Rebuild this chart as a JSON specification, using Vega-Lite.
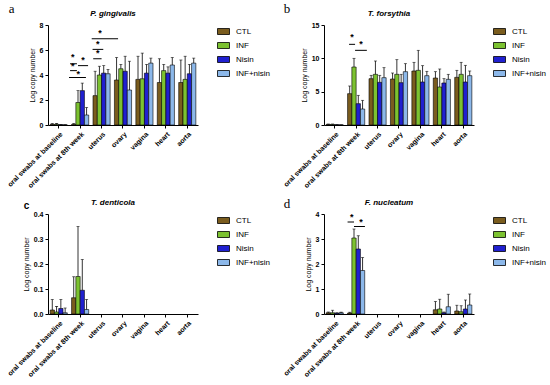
{
"$schema":"https://vega.github.io/schema/vega-lite/v6.json",
"padding":{"left":5,"top":3,"right":0,"bottom":0},
"config":{"font":"Liberation Sans","view":{"stroke":null},
"axis":{"domainColor":"black","tickColor":"black","labelColor":"black","titleColor":"black","grid":false,"labelFontSize":7,"labelFontWeight":"bold","titleFontSize":7,"titleFontWeight":"normal","tickSize":3,"titlePadding":4,"labelOverlap":false},
"legend":{"orient":"right","offset":19,"symbolType":"M-1,-0.5H1V0.5H-1Z","symbolSize":144,"symbolStrokeColor":"black","symbolStrokeWidth":0.8,"labelFontSize":8,"rowPadding":2,"labelOffset":6,"symbolOpacity":1}},
"datasets":{
"bars":[
{"p":"a","s":"oral swabs at baseline","g":"CTL","v":0.05,"t":0.12},
{"p":"a","s":"oral swabs at baseline","g":"INF","v":0.05,"t":0.12},
{"p":"a","s":"oral swabs at baseline","g":"Nisin","v":0.02,"t":0.04},
{"p":"a","s":"oral swabs at baseline","g":"INF+nisin","v":0.01,"t":0.02},
{"p":"a","s":"oral swabs at 8th week","g":"CTL","v":0.05,"t":0.12},
{"p":"a","s":"oral swabs at 8th week","g":"INF","v":1.8,"t":2.75},
{"p":"a","s":"oral swabs at 8th week","g":"Nisin","v":2.75,"t":3.35},
{"p":"a","s":"oral swabs at 8th week","g":"INF+nisin","v":0.8,"t":1.4},
{"p":"a","s":"uterus","g":"CTL","v":2.35,"t":4.3},
{"p":"a","s":"uterus","g":"INF","v":4.0,"t":4.7},
{"p":"a","s":"uterus","g":"Nisin","v":4.15,"t":4.75},
{"p":"a","s":"uterus","g":"INF+nisin","v":4.1,"t":4.45},
{"p":"a","s":"ovary","g":"CTL","v":3.6,"t":5.4},
{"p":"a","s":"ovary","g":"INF","v":4.5,"t":4.85},
{"p":"a","s":"ovary","g":"Nisin","v":4.3,"t":5.5},
{"p":"a","s":"ovary","g":"INF+nisin","v":2.8,"t":5.1},
{"p":"a","s":"vagina","g":"CTL","v":3.65,"t":5.5},
{"p":"a","s":"vagina","g":"INF","v":3.7,"t":5.75},
{"p":"a","s":"vagina","g":"Nisin","v":4.15,"t":4.85},
{"p":"a","s":"vagina","g":"INF+nisin","v":4.95,"t":5.35},
{"p":"a","s":"heart","g":"CTL","v":3.4,"t":5.3},
{"p":"a","s":"heart","g":"INF","v":4.35,"t":4.85},
{"p":"a","s":"heart","g":"Nisin","v":4.15,"t":4.65},
{"p":"a","s":"heart","g":"INF+nisin","v":4.8,"t":5.4},
{"p":"a","s":"aorta","g":"CTL","v":3.4,"t":5.2},
{"p":"a","s":"aorta","g":"INF","v":3.65,"t":5.5},
{"p":"a","s":"aorta","g":"Nisin","v":4.1,"t":4.85},
{"p":"a","s":"aorta","g":"INF+nisin","v":4.95,"t":5.35},
{"p":"b","s":"oral swabs at baseline","g":"CTL","v":0.08,"t":0.15},
{"p":"b","s":"oral swabs at baseline","g":"INF","v":0.08,"t":0.15},
{"p":"b","s":"oral swabs at baseline","g":"Nisin","v":0.03,"t":0.05},
{"p":"b","s":"oral swabs at baseline","g":"INF+nisin","v":0.02,"t":0.03},
{"p":"b","s":"oral swabs at 8th week","g":"CTL","v":4.7,"t":5.85},
{"p":"b","s":"oral swabs at 8th week","g":"INF","v":8.7,"t":10.0},
{"p":"b","s":"oral swabs at 8th week","g":"Nisin","v":3.2,"t":4.45},
{"p":"b","s":"oral swabs at 8th week","g":"INF+nisin","v":2.4,"t":3.7},
{"p":"b","s":"uterus","g":"CTL","v":6.95,"t":7.45},
{"p":"b","s":"uterus","g":"INF","v":7.6,"t":9.6},
{"p":"b","s":"uterus","g":"Nisin","v":6.4,"t":7.45},
{"p":"b","s":"uterus","g":"INF+nisin","v":7.1,"t":8.6},
{"p":"b","s":"ovary","g":"CTL","v":6.9,"t":7.8},
{"p":"b","s":"ovary","g":"INF","v":7.6,"t":9.8},
{"p":"b","s":"ovary","g":"Nisin","v":6.35,"t":7.6},
{"p":"b","s":"ovary","g":"INF+nisin","v":8.0,"t":9.2},
{"p":"b","s":"vagina","g":"CTL","v":8.1,"t":9.4},
{"p":"b","s":"vagina","g":"INF","v":8.2,"t":11.2},
{"p":"b","s":"vagina","g":"Nisin","v":6.45,"t":8.9},
{"p":"b","s":"vagina","g":"INF+nisin","v":7.4,"t":8.05},
{"p":"b","s":"heart","g":"CTL","v":7.05,"t":8.0},
{"p":"b","s":"heart","g":"INF","v":5.7,"t":8.4},
{"p":"b","s":"heart","g":"Nisin","v":6.3,"t":6.95},
{"p":"b","s":"heart","g":"INF+nisin","v":6.85,"t":7.6},
{"p":"b","s":"aorta","g":"CTL","v":7.15,"t":8.2},
{"p":"b","s":"aorta","g":"INF","v":7.6,"t":9.4},
{"p":"b","s":"aorta","g":"Nisin","v":6.45,"t":8.95},
{"p":"b","s":"aorta","g":"INF+nisin","v":7.4,"t":8.1},
{"p":"c","s":"oral swabs at baseline","g":"CTL","v":0.016,"t":0.058},
{"p":"c","s":"oral swabs at baseline","g":"INF","v":0.008,"t":0.03},
{"p":"c","s":"oral swabs at baseline","g":"Nisin","v":0.022,"t":0.058},
{"p":"c","s":"oral swabs at baseline","g":"INF+nisin","v":0.005,"t":0.024},
{"p":"c","s":"oral swabs at 8th week","g":"CTL","v":0.065,"t":0.149},
{"p":"c","s":"oral swabs at 8th week","g":"INF","v":0.15,"t":0.35},
{"p":"c","s":"oral swabs at 8th week","g":"Nisin","v":0.095,"t":0.218},
{"p":"c","s":"oral swabs at 8th week","g":"INF+nisin","v":0.018,"t":0.058},
{"p":"d","s":"oral swabs at baseline","g":"CTL","v":0.05,"t":0.08},
{"p":"d","s":"oral swabs at baseline","g":"INF","v":0.05,"t":0.15},
{"p":"d","s":"oral swabs at baseline","g":"Nisin","v":0.03,"t":0.05},
{"p":"d","s":"oral swabs at baseline","g":"INF+nisin","v":0.05,"t":0.07},
{"p":"d","s":"oral swabs at 8th week","g":"CTL","v":0.04,"t":0.07},
{"p":"d","s":"oral swabs at 8th week","g":"INF","v":3.04,"t":3.4},
{"p":"d","s":"oral swabs at 8th week","g":"Nisin","v":2.6,"t":3.13},
{"p":"d","s":"oral swabs at 8th week","g":"INF+nisin","v":1.74,"t":2.26},
{"p":"d","s":"heart","g":"CTL","v":0.17,"t":0.5},
{"p":"d","s":"heart","g":"INF","v":0.2,"t":0.59},
{"p":"d","s":"heart","g":"Nisin","v":0.05,"t":0.08},
{"p":"d","s":"heart","g":"INF+nisin","v":0.29,"t":0.79},
{"p":"d","s":"aorta","g":"CTL","v":0.12,"t":0.35},
{"p":"d","s":"aorta","g":"INF","v":0.09,"t":0.33},
{"p":"d","s":"aorta","g":"Nisin","v":0.2,"t":0.56},
{"p":"d","s":"aorta","g":"INF+nisin","v":0.36,"t":0.8}
],
"sig":[
{"p":"a","x1":1.03,"x2":1.35,"y":4.9},
{"p":"a","x1":1.03,"x2":1.35,"y":4.35},
{"p":"a","x1":1.4,"x2":1.87,"y":4.75},
{"p":"a","x1":0.98,"x2":1.77,"y":3.8},
{"p":"a","x1":2.04,"x2":3.27,"y":6.9},
{"p":"a","x1":2.08,"x2":2.58,"y":6.05},
{"p":"a","x1":2.11,"x2":2.5,"y":5.3},
{"p":"b","x1":1.17,"x2":1.45,"y":12.1},
{"p":"b","x1":1.45,"x2":2.0,"y":11.2},
{"p":"d","x1":1.1,"x2":1.4,"y":3.68},
{"p":"d","x1":1.4,"x2":1.91,"y":3.5}
],
"star":[
{"p":"a","x":1.15,"y":5.45},
{"p":"a","x":1.15,"y":4.7},
{"p":"a","x":1.63,"y":5.2},
{"p":"a","x":1.41,"y":4.05},
{"p":"a","x":2.43,"y":7.35},
{"p":"a","x":2.32,"y":6.5},
{"p":"a","x":2.32,"y":5.75},
{"p":"b","x":1.31,"y":13.2},
{"p":"b","x":1.73,"y":12.2},
{"p":"d","x":1.29,"y":3.9},
{"p":"d","x":1.73,"y":3.7}
]
},
"resolve":{"scale":{"color":"independent"},"legend":{"color":"independent"}},
"spacing":9,
"vconcat":[
{"hconcat":[
{"title":{"text":"a","anchor":"start","font":"Liberation Serif","fontSize":13,"fontWeight":"normal","dx":3,"offset":-6},
"resolve":{"scale":{"color":"independent"},"legend":{"color":"independent"}},
"vconcat":[{"width":150,"height":100,
"title":{"text":"P. gingivalis","fontStyle":"italic","fontWeight":"bold","fontSize":8,"offset":3,"dx":-10},
"layer":[
{"data":{"name":"bars"},"transform":[{"filter":"datum.p=='a'"}],
"layer":[
{"mark":{"type":"bar","stroke":"black","strokeWidth":0.6},
"encoding":{"x":{"field":"s","type":"nominal","scale":{"domain":["oral swabs at baseline","oral swabs at 8th week","uterus","ovary","vagina","heart","aorta"],"paddingInner":0,"paddingOuter":0},"axis":{"title":null,"labelAngle":-45}},
"xOffset":{"field":"g","type":"nominal","scale":{"domain":["CTL","INF","Nisin","INF+nisin"],"paddingInner":0,"paddingOuter":0.5}},
"y":{"field":"v","type":"quantitative","scale":{"domain":[0,8],"nice":false},"axis":{"title":"Log copy number","values":[0,2,4,6,8]}},
"color":{"field":"g","type":"nominal","scale":{"domain":["CTL","INF","Nisin","INF+nisin"],"range":["#7a5c1e","#7cc230","#2020d0","#8cb8ea"]},"legend":{"title":null}}}},
{"mark":{"type":"rule","color":"black","strokeWidth":0.8},
"encoding":{"x":{"field":"s","type":"nominal"},"xOffset":{"field":"g","type":"nominal"},"y":{"field":"v","type":"quantitative","axis":{"title":"Log copy number","values":[0,2,4,6,8]}},"y2":{"field":"t"}}},
{"mark":{"type":"tick","orient":"horizontal","color":"black","size":3,"thickness":0.8},
"encoding":{"x":{"field":"s","type":"nominal"},"xOffset":{"field":"g","type":"nominal"},"y":{"field":"t","type":"quantitative","axis":{"title":"Log copy number","values":[0,2,4,6,8]}}}}
]},
{"data":{"name":"sig"},"transform":[{"filter":"datum.p=='a'"}],"mark":{"type":"rule","color":"black","strokeWidth":1},
"encoding":{"x":{"field":"x1","type":"quantitative","scale":{"domain":[0,7],"nice":false,"zero":false},"axis":null},"x2":{"field":"x2"},"y":{"field":"y","type":"quantitative","axis":{"title":"Log copy number","values":[0,2,4,6,8]}}}},
{"data":{"name":"star"},"transform":[{"filter":"datum.p=='a'"}],"mark":{"type":"text","text":"*","fontSize":9,"fontWeight":"bold","baseline":"middle"},
"encoding":{"x":{"field":"x","type":"quantitative","scale":{"domain":[0,7],"nice":false,"zero":false},"axis":null},"y":{"field":"y","type":"quantitative","axis":{"title":"Log copy number","values":[0,2,4,6,8]}}}}
],
"resolve":{"scale":{"x":"independent"}}}]},
{"title":{"text":"b","anchor":"start","font":"Liberation Serif","fontSize":13,"fontWeight":"normal","dx":2,"offset":-6},
"resolve":{"scale":{"color":"independent"},"legend":{"color":"independent"}},
"vconcat":[{"width":150,"height":100,
"title":{"text":"T. forsythia","fontStyle":"italic","fontWeight":"bold","fontSize":8,"offset":3,"dx":-10},
"layer":[
{"data":{"name":"bars"},"transform":[{"filter":"datum.p=='b'"}],
"layer":[
{"mark":{"type":"bar","stroke":"black","strokeWidth":0.6},
"encoding":{"x":{"field":"s","type":"nominal","scale":{"domain":["oral swabs at baseline","oral swabs at 8th week","uterus","ovary","vagina","heart","aorta"],"paddingInner":0,"paddingOuter":0},"axis":{"title":null,"labelAngle":-45}},
"xOffset":{"field":"g","type":"nominal","scale":{"domain":["CTL","INF","Nisin","INF+nisin"],"paddingInner":0,"paddingOuter":0.5}},
"y":{"field":"v","type":"quantitative","scale":{"domain":[0,15],"nice":false},"axis":{"title":"Log copy number","values":[0,5,10,15]}},
"color":{"field":"g","type":"nominal","scale":{"domain":["CTL","INF","Nisin","INF+nisin"],"range":["#7a5c1e","#7cc230","#2020d0","#8cb8ea"]},"legend":{"title":null}}}},
{"mark":{"type":"rule","color":"black","strokeWidth":0.8},
"encoding":{"x":{"field":"s","type":"nominal"},"xOffset":{"field":"g","type":"nominal"},"y":{"field":"v","type":"quantitative","axis":{"title":"Log copy number","values":[0,5,10,15]}},"y2":{"field":"t"}}},
{"mark":{"type":"tick","orient":"horizontal","color":"black","size":3,"thickness":0.8},
"encoding":{"x":{"field":"s","type":"nominal"},"xOffset":{"field":"g","type":"nominal"},"y":{"field":"t","type":"quantitative","axis":{"title":"Log copy number","values":[0,5,10,15]}}}}
]},
{"data":{"name":"sig"},"transform":[{"filter":"datum.p=='b'"}],"mark":{"type":"rule","color":"black","strokeWidth":1},
"encoding":{"x":{"field":"x1","type":"quantitative","scale":{"domain":[0,7],"nice":false,"zero":false},"axis":null},"x2":{"field":"x2"},"y":{"field":"y","type":"quantitative","axis":{"title":"Log copy number","values":[0,5,10,15]}}}},
{"data":{"name":"star"},"transform":[{"filter":"datum.p=='b'"}],"mark":{"type":"text","text":"*","fontSize":9,"fontWeight":"bold","baseline":"middle"},
"encoding":{"x":{"field":"x","type":"quantitative","scale":{"domain":[0,7],"nice":false,"zero":false},"axis":null},"y":{"field":"y","type":"quantitative","axis":{"title":"Log copy number","values":[0,5,10,15]}}}}
],
"resolve":{"scale":{"x":"independent"}}}]}
],"spacing":10,"resolve":{"scale":{"color":"independent"},"legend":{"color":"independent"}}},
{"hconcat":[
{"title":{"text":"c","anchor":"start","font":"Liberation Sans","fontSize":10,"fontWeight":"bold","dx":18,"offset":-12},
"resolve":{"scale":{"color":"independent"},"legend":{"color":"independent"}},
"vconcat":[{"width":150,"height":100,
"title":{"text":"T. denticola","fontStyle":"italic","fontWeight":"bold","fontSize":8,"offset":3,"dx":-10},
"layer":[
{"data":{"name":"bars"},"transform":[{"filter":"datum.p=='c'"}],
"layer":[
{"mark":{"type":"bar","stroke":"black","strokeWidth":0.6},
"encoding":{"x":{"field":"s","type":"nominal","scale":{"domain":["oral swabs at baseline","oral swabs at 8th week","uterus","ovary","vagina","heart","aorta"],"paddingInner":0,"paddingOuter":0},"axis":{"title":null,"labelAngle":-45}},
"xOffset":{"field":"g","type":"nominal","scale":{"domain":["CTL","INF","Nisin","INF+nisin"],"paddingInner":0,"paddingOuter":0.5}},
"y":{"field":"v","type":"quantitative","scale":{"domain":[0,0.4],"nice":false},"axis":{"title":"Log copy number","values":[0,0.1,0.2,0.3,0.4],"format":".1f"}},
"color":{"field":"g","type":"nominal","scale":{"domain":["CTL","INF","Nisin","INF+nisin"],"range":["#7a5c1e","#7cc230","#2020d0","#8cb8ea"]},"legend":{"title":null}}}},
{"mark":{"type":"rule","color":"black","strokeWidth":0.8},
"encoding":{"x":{"field":"s","type":"nominal"},"xOffset":{"field":"g","type":"nominal"},"y":{"field":"v","type":"quantitative","axis":{"title":"Log copy number","values":[0,0.1,0.2,0.3,0.4],"format":".1f"}},"y2":{"field":"t"}}},
{"mark":{"type":"tick","orient":"horizontal","color":"black","size":3,"thickness":0.8},
"encoding":{"x":{"field":"s","type":"nominal"},"xOffset":{"field":"g","type":"nominal"},"y":{"field":"t","type":"quantitative","axis":{"title":"Log copy number","values":[0,0.1,0.2,0.3,0.4],"format":".1f"}}}}
]}
]}]},
{"title":{"text":"d","anchor":"start","font":"Liberation Serif","fontSize":13,"fontWeight":"normal","dx":2,"offset":-12},
"resolve":{"scale":{"color":"independent"},"legend":{"color":"independent"}},
"vconcat":[{"width":150,"height":100,
"title":{"text":"F. nucleatum","fontStyle":"italic","fontWeight":"bold","fontSize":8,"offset":3,"dx":-10},
"layer":[
{"data":{"name":"bars"},"transform":[{"filter":"datum.p=='d'"}],
"layer":[
{"mark":{"type":"bar","stroke":"black","strokeWidth":0.6},
"encoding":{"x":{"field":"s","type":"nominal","scale":{"domain":["oral swabs at baseline","oral swabs at 8th week","uterus","ovary","vagina","heart","aorta"],"paddingInner":0,"paddingOuter":0},"axis":{"title":null,"labelAngle":-45}},
"xOffset":{"field":"g","type":"nominal","scale":{"domain":["CTL","INF","Nisin","INF+nisin"],"paddingInner":0,"paddingOuter":0.5}},
"y":{"field":"v","type":"quantitative","scale":{"domain":[0,4],"nice":false},"axis":{"title":"Log copy number","values":[0,1,2,3,4]}},
"color":{"field":"g","type":"nominal","scale":{"domain":["CTL","INF","Nisin","INF+nisin"],"range":["#7a5c1e","#7cc230","#2020d0","#8cb8ea"]},"legend":{"title":null}}}},
{"mark":{"type":"rule","color":"black","strokeWidth":0.8},
"encoding":{"x":{"field":"s","type":"nominal"},"xOffset":{"field":"g","type":"nominal"},"y":{"field":"v","type":"quantitative","axis":{"title":"Log copy number","values":[0,1,2,3,4]}},"y2":{"field":"t"}}},
{"mark":{"type":"tick","orient":"horizontal","color":"black","size":3,"thickness":0.8},
"encoding":{"x":{"field":"s","type":"nominal"},"xOffset":{"field":"g","type":"nominal"},"y":{"field":"t","type":"quantitative","axis":{"title":"Log copy number","values":[0,1,2,3,4]}}}}
]},
{"data":{"name":"sig"},"transform":[{"filter":"datum.p=='d'"}],"mark":{"type":"rule","color":"black","strokeWidth":1},
"encoding":{"x":{"field":"x1","type":"quantitative","scale":{"domain":[0,7],"nice":false,"zero":false},"axis":null},"x2":{"field":"x2"},"y":{"field":"y","type":"quantitative","axis":{"title":"Log copy number","values":[0,1,2,3,4]}}}},
{"data":{"name":"star"},"transform":[{"filter":"datum.p=='d'"}],"mark":{"type":"text","text":"*","fontSize":9,"fontWeight":"bold","baseline":"middle"},
"encoding":{"x":{"field":"x","type":"quantitative","scale":{"domain":[0,7],"nice":false,"zero":false},"axis":null},"y":{"field":"y","type":"quantitative","axis":{"title":"Log copy number","values":[0,1,2,3,4]}}}}
],
"resolve":{"scale":{"x":"independent"}}}]}
],"spacing":10,"resolve":{"scale":{"color":"independent"},"legend":{"color":"independent"}}}
]
}
